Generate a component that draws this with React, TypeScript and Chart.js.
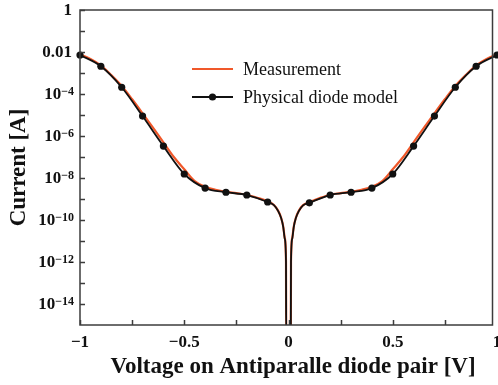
import React, { useEffect, useRef } from 'react';
import { Chart, registerables } from 'chart.js';

Chart.register(...registerables);

// ---------- data ----------
const markerVoltage = [-1, -0.9, -0.8, -0.7, -0.6, -0.5, -0.4, -0.3, -0.2, -0.1, 0.1, 0.2, 0.3, 0.4, 0.5, 0.6, 0.7, 0.8, 0.9, 1];
const markerCurrent = [7.2e-3, 2.1e-3, 2.1e-4, 8.9e-6, 3.3e-7, 1.55e-8, 3.3e-9, 2.1e-9, 1.55e-9, 7.2e-10, 6.6e-10, 1.55e-9, 2.1e-9, 3.3e-9, 1.55e-8, 3.3e-7, 8.9e-6, 2.1e-4, 2.1e-3, 7.2e-3];

const modelVoltage = [-1, -0.9, -0.8, -0.7, -0.6, -0.5, -0.4, -0.3, -0.2, -0.1, -0.07, -0.05, -0.035, -0.025, -0.018, -0.012, -0.011, 0.011, 0.012, 0.018, 0.025, 0.035, 0.05, 0.07, 0.1, 0.2, 0.3, 0.4, 0.5, 0.6, 0.7, 0.8, 0.9, 1];
const modelCurrent = [7.2e-3, 2.1e-3, 2.1e-4, 8.9e-6, 3.3e-7, 1.55e-8, 3.3e-9, 2.1e-9, 1.55e-9, 7.2e-10, 5.1e-10, 2.7e-10, 1.2e-10, 4.5e-11, 1.3e-11, 1.0e-12, 3e-16, 3e-16, 1.0e-12, 1.3e-11, 4.5e-11, 1.2e-10, 2.7e-10, 5.0e-10, 6.6e-10, 1.55e-9, 2.1e-9, 3.3e-9, 1.55e-8, 3.3e-7, 8.9e-6, 2.1e-4, 2.1e-3, 7.2e-3];

const measVoltage = [-1, -0.95, -0.9, -0.85, -0.8, -0.75, -0.7, -0.65, -0.6, -0.55, -0.5, -0.45, -0.4, -0.35, -0.3, -0.25, -0.2, -0.15, -0.1, -0.07, -0.05, -0.035, -0.025, -0.018, -0.012, -0.011, 0.011, 0.012, 0.018, 0.025, 0.035, 0.05, 0.07, 0.1, 0.15, 0.2, 0.25, 0.3, 0.35, 0.4, 0.45, 0.5, 0.55, 0.6, 0.65, 0.7, 0.75, 0.8, 0.85, 0.9, 0.95, 1];
const measCurrent = [7.6e-3, 4.7e-3, 2.3e-3, 7.9e-4, 2.4e-4, 5.6e-5, 1.2e-5, 2.5e-6, 5.0e-7, 1.0e-7, 2.6e-8, 7.1e-9, 3.8e-9, 2.75e-9, 2.2e-9, 1.9e-9, 1.6e-9, 1.15e-9, 7.6e-10, 5.2e-10, 2.8e-10, 1.25e-10, 4.7e-11, 1.4e-11, 1.1e-12, 3e-16, 3e-16, 1.1e-12, 1.4e-11, 4.7e-11, 1.25e-10, 2.8e-10, 5.1e-10, 7.0e-10, 1.1e-9, 1.6e-9, 1.9e-9, 2.2e-9, 2.75e-9, 3.8e-9, 7.1e-9, 2.6e-8, 1.0e-7, 5.0e-7, 2.5e-6, 1.2e-5, 5.6e-5, 2.4e-4, 7.9e-4, 2.3e-3, 4.7e-3, 7.6e-3];

const xMajorTicks = [-1, -0.5, 0, 0.5, 1];
const xTickLabels = ['\u22121', '\u22120.5', '0', '0.5', '1'];
const xMinorTicks = [-0.75, -0.25, 0.25, 0.75];

const yMajorTicks = [1, 1e-2, 1e-4, 1e-6, 1e-8, 1e-10, 1e-12, 1e-14];
const yTickBases = ['1', '0.01', '10', '10', '10', '10', '10', '10'];
const yTickExps = ['', '', '\u22124', '\u22126', '\u22128', '\u221210', '\u221212', '\u221214'];
const yMinorTicks = [1e-1, 1e-3, 1e-5, 1e-7, 1e-9, 1e-11, 1e-13];

const seriesNames = ['Measurement', 'Physical diode model'];
const xTitle = 'Voltage on Antiparalle diode pair [V]';
const yTitle = 'Current [A]';

const ORANGE = 'rgb(240, 88, 42)';
const BLACK = '#111111';
const FONT = "'Liberation Serif', 'Times New Roman', serif";

const toPoints = (xs: number[], ys: number[]) => xs.map((v, i) => ({ x: v, y: ys[i] }));

const decorPlugin = {
  id: 'decor',
  afterDatasetsDraw(chart: any) {
    const { ctx, chartArea: a, scales } = chart;
    const x = scales.x;
    const y = scales.y;
    ctx.save();
    // frame (the reference's box stops a few px short of x = 1)
    const frameRight = a.right - 4.5;
    ctx.strokeStyle = '#3c3c3c';
    ctx.lineWidth = 1.5;
    ctx.strokeRect(a.left, a.top, frameRight - a.left, a.bottom - a.top);
    // inward ticks
    ctx.beginPath();
    [...xMajorTicks, ...xMinorTicks].forEach((v) => {
      const px = Math.round(x.getPixelForValue(v)) + 0.5;
      if (px > frameRight) return;
      ctx.moveTo(px, a.bottom);
      ctx.lineTo(px, a.bottom - 5);
    });
    [...yMajorTicks, ...yMinorTicks].forEach((v) => {
      const py = Math.round(y.getPixelForValue(v)) + 0.5;
      ctx.moveTo(a.left, py);
      ctx.lineTo(a.left + 5, py);
    });
    ctx.stroke();

    ctx.fillStyle = '#111';
    // x tick labels
    ctx.font = `bold 17px ${FONT}`;
    ctx.textAlign = 'center';
    ctx.textBaseline = 'middle';
    xMajorTicks.forEach((v, i) => {
      ctx.fillText(xTickLabels[i], x.getPixelForValue(v), a.bottom + 18);
    });

    // y tick labels with superscript exponents
    const right = a.left - 6;
    yMajorTicks.forEach((v, i) => {
      const py = y.getPixelForValue(v) + 1;
      const exp = yTickExps[i];
      ctx.textAlign = 'right';
      if (exp) {
        ctx.font = `bold 12px ${FONT}`;
        ctx.textBaseline = 'alphabetic';
        const ew = ctx.measureText(exp).width;
        ctx.fillText(exp, right, py);
        ctx.font = `bold 17px ${FONT}`;
        ctx.textBaseline = 'middle';
        ctx.fillText(yTickBases[i], right - ew, py);
      } else {
        ctx.font = `bold 17px ${FONT}`;
        ctx.textBaseline = 'middle';
        ctx.fillText(yTickBases[i], right - 2, py);
      }
    });

    // x axis title
    ctx.font = `bold 23px ${FONT}`;
    ctx.textAlign = 'center';
    ctx.textBaseline = 'middle';
    ctx.fillText(xTitle, (a.left + a.right) / 2 + 4.5, 367);

    // legend
    const lx0 = 192, lx1 = 233, tx = 243;
    const ly0 = 69, ly1 = 97;
    ctx.lineWidth = 2.2;
    ctx.strokeStyle = ORANGE;
    ctx.beginPath();
    ctx.moveTo(lx0, ly0);
    ctx.lineTo(lx1, ly0);
    ctx.stroke();
    ctx.strokeStyle = BLACK;
    ctx.lineWidth = 1.8;
    ctx.beginPath();
    ctx.moveTo(lx0, ly1);
    ctx.lineTo(lx1, ly1);
    ctx.stroke();
    ctx.fillStyle = BLACK;
    ctx.beginPath();
    ctx.arc((lx0 + lx1) / 2, ly1, 3.6, 0, Math.PI * 2);
    ctx.fill();
    ctx.fillStyle = '#111';
    ctx.font = `18px ${FONT}`;
    ctx.textAlign = 'left';
    ctx.textBaseline = 'middle';
    ctx.fillText(seriesNames[0], tx, ly0 + 1);
    ctx.fillText(seriesNames[1], tx, ly1 + 1);
    ctx.restore();
  },
};

export default function App() {
  const canvasRef = useRef<HTMLCanvasElement | null>(null);

  useEffect(() => {
    const canvas = canvasRef.current;
    if (!canvas) return;
    const chart = new Chart(canvas, {
      type: 'scatter',
      data: {
        datasets: [
          {
            label: seriesNames[1] + ' markers',
            data: toPoints(markerVoltage, markerCurrent),
            showLine: false,
            pointRadius: 3.6,
            pointBackgroundColor: BLACK,
            pointBorderColor: BLACK,
            pointBorderWidth: 0,
            clip: false as any,
          },
          {
            label: seriesNames[1],
            data: toPoints(modelVoltage, modelCurrent),
            showLine: true,
            borderColor: BLACK,
            borderWidth: 1.8,
            pointRadius: 0,
            cubicInterpolationMode: 'monotone',
          },
          {
            label: seriesNames[0],
            data: toPoints(measVoltage, measCurrent),
            showLine: true,
            borderColor: ORANGE,
            borderWidth: 2.2,
            pointRadius: 0,
            cubicInterpolationMode: 'monotone',
          },
        ],
      },
      options: {
        animation: false,
        responsive: false,
        devicePixelRatio: 1,
        layout: { autoPadding: false, padding: { top: 10, right: 1, left: 0, bottom: 0 } },
        plugins: { legend: { display: false }, tooltip: { enabled: false } },
        scales: {
          x: {
            type: 'linear',
            min: -1,
            max: 1,
            grid: { display: false, drawTicks: false },
            border: { display: false },
            ticks: { display: false },
            afterFit: (s: any) => {
              s.height = 60;
              s.paddingLeft = 0;
              s.paddingRight = 0;
            },
            title: { display: false },
          },
          y: {
            type: 'logarithmic',
            min: 1e-15,
            max: 1,
            grid: { display: false, drawTicks: false },
            border: { display: false },
            ticks: { display: false },
            afterFit: (s: any) => {
              s.width = 80;
              s.paddingTop = 0;
              s.paddingBottom = 0;
            },
            title: {
              display: true,
              text: yTitle,
              color: '#111',
              font: { family: FONT, size: 23, weight: 'bold' },
              padding: { top: 5, bottom: 0 },
            },
          },
        },
      } as any,
      plugins: [decorPlugin],
    });
    return () => chart.destroy();
  }, []);

  return (
    <div style={{ position: 'fixed', left: 0, top: 0, width: 498, height: 385, background: '#fff' }}>
      <canvas ref={canvasRef} width={498} height={385} style={{ display: 'block', width: 498, height: 385 }} />
    </div>
  );
}
